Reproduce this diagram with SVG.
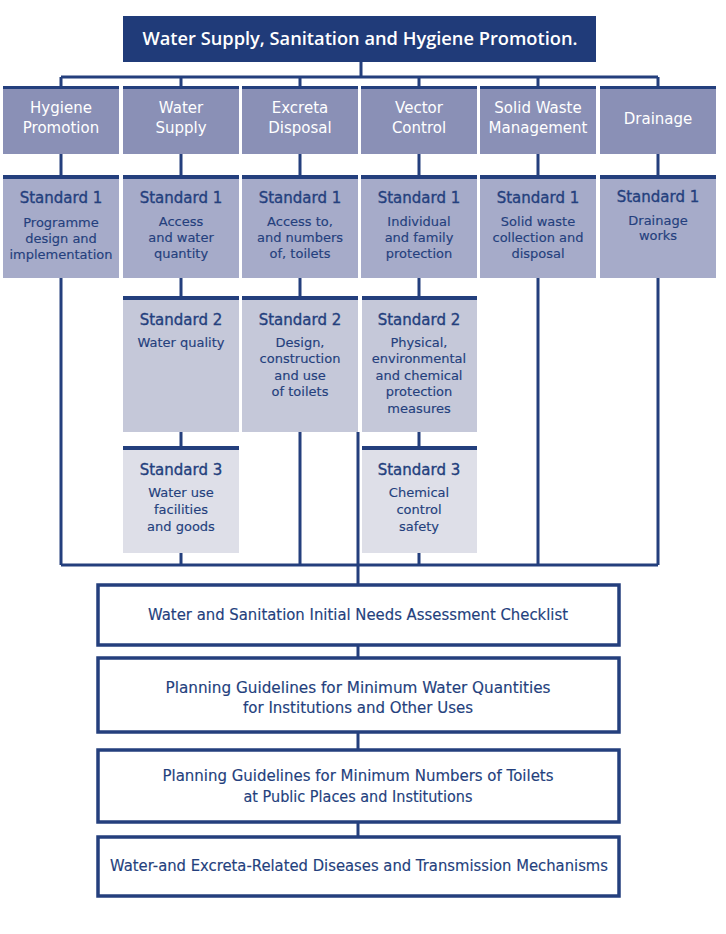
<svg xmlns="http://www.w3.org/2000/svg" width="726" height="934" viewBox="0 0 726 934">
<style>
  .ln{stroke:#243f7d;stroke-width:3;fill:none}
  .cat{fill:#8a90b6}
  .s1{fill:#a6abc9}
  .s2{fill:#c5c8d9}
  .s3{fill:#dedfe8}
  .bar{fill:#243f7d}
  .bot{fill:#ffffff;stroke:#243f7d;stroke-width:3.5}
  .ct{font-family:"DejaVu Sans","Liberation Sans",sans-serif;font-size:15px;fill:#ffffff;text-anchor:middle}
  .st{font-family:"DejaVu Sans","Liberation Sans",sans-serif;font-size:15px;fill:#243f7d;text-anchor:middle;stroke:#243f7d;stroke-width:0.35}
  .dt{font-family:"DejaVu Sans","Liberation Sans",sans-serif;font-size:13px;fill:#243f7d;text-anchor:middle;stroke:#243f7d;stroke-width:0.15}
  .bt{font-family:"DejaVu Sans","Liberation Sans",sans-serif;font-size:15px;fill:#243f7d;text-anchor:middle;stroke:#243f7d;stroke-width:0.15}
  .tt{font-family:"Open Sans","DejaVu Sans",sans-serif;font-size:18px;font-weight:600;fill:#ffffff;text-anchor:middle}
</style>
<rect width="726" height="934" fill="#ffffff"/>
<g id="connectors">
  <path class="ln" d="M361 62V77M61 77H658M61 77V87M181 77V87M300 77V87M419 77V87M538 77V87M658 77V87"/>
  <path class="ln" d="M61 154V176M181 154V176M300 154V176M419 154V176M538 154V176M658 154V176"/>
  <path class="ln" d="M181 278V297M300 278V297M419 278V297M181 432V447M419 432V447"/>
  <path class="ln" d="M61 278V565M538 278V565M658 278V565M300 432V565M181 553V565M419 553V565M61 565H658"/>
  <path class="ln" d="M358 432V584M358 646V657M358 733V749M358 823V836"/>
</g>
<g id="title">
  <rect x="123" y="16" width="473" height="46" fill="#203b79"/>
  <text class="tt" x="360" y="45" textLength="435" lengthAdjust="spacingAndGlyphs">Water Supply, Sanitation and Hygiene Promotion.</text>
</g>
<g id="cat-hygiene">
  <rect class="cat" x="3" y="87" width="116" height="67"/><rect class="bar" x="3" y="86" width="116" height="3"/>
  <text class="ct" x="61" y="113">Hygiene</text><text class="ct" x="61" y="133">Promotion</text>
</g>
<g id="cat-water">
  <rect class="cat" x="123" y="87" width="116" height="67"/><rect class="bar" x="123" y="86" width="116" height="3"/>
  <text class="ct" x="181" y="113">Water</text><text class="ct" x="181" y="133">Supply</text>
</g>
<g id="cat-excreta">
  <rect class="cat" x="242" y="87" width="116" height="67"/><rect class="bar" x="242" y="86" width="116" height="3"/>
  <text class="ct" x="300" y="113">Excreta</text><text class="ct" x="300" y="133">Disposal</text>
</g>
<g id="cat-vector">
  <rect class="cat" x="361" y="87" width="116" height="67"/><rect class="bar" x="361" y="86" width="116" height="3"/>
  <text class="ct" x="419" y="113">Vector</text><text class="ct" x="419" y="133">Control</text>
</g>
<g id="cat-solid">
  <rect class="cat" x="480" y="87" width="116" height="67"/><rect class="bar" x="480" y="86" width="116" height="3"/>
  <text class="ct" x="538" y="113">Solid Waste</text><text class="ct" x="538" y="133">Management</text>
</g>
<g id="cat-drainage">
  <rect class="cat" x="600" y="87" width="116" height="67"/><rect class="bar" x="600" y="86" width="116" height="3"/>
  <text class="ct" x="658" y="124">Drainage</text>
</g>
<g id="hyg-s1">
  <rect class="s1" x="3" y="176" width="116" height="102"/><rect class="bar" x="3" y="175" width="116" height="4"/>
  <text class="st" x="61" y="203">Standard 1</text>
  <text class="dt" x="61" y="227">Programme</text><text class="dt" x="61" y="243">design and</text><text class="dt" x="61" y="259">implementation</text>
</g>
<g id="wat-s1">
  <rect class="s1" x="123" y="176" width="116" height="102"/><rect class="bar" x="123" y="175" width="116" height="4"/>
  <text class="st" x="181" y="203">Standard 1</text>
  <text class="dt" x="181" y="226">Access</text><text class="dt" x="181" y="242">and water</text><text class="dt" x="181" y="258">quantity</text>
</g>
<g id="exc-s1">
  <rect class="s1" x="242" y="176" width="116" height="102"/><rect class="bar" x="242" y="175" width="116" height="4"/>
  <text class="st" x="300" y="203">Standard 1</text>
  <text class="dt" x="300" y="226">Access to,</text><text class="dt" x="300" y="242">and numbers</text><text class="dt" x="300" y="258">of, toilets</text>
</g>
<g id="vec-s1">
  <rect class="s1" x="361" y="176" width="116" height="102"/><rect class="bar" x="361" y="175" width="116" height="4"/>
  <text class="st" x="419" y="203">Standard 1</text>
  <text class="dt" x="419" y="226">Individual</text><text class="dt" x="419" y="242">and family</text><text class="dt" x="419" y="258">protection</text>
</g>
<g id="sol-s1">
  <rect class="s1" x="480" y="176" width="116" height="102"/><rect class="bar" x="480" y="175" width="116" height="4"/>
  <text class="st" x="538" y="203">Standard 1</text>
  <text class="dt" x="538" y="226">Solid waste</text><text class="dt" x="538" y="242">collection and</text><text class="dt" x="538" y="258">disposal</text>
</g>
<g id="dra-s1">
  <rect class="s1" x="600" y="176" width="116" height="102"/><rect class="bar" x="600" y="175" width="116" height="4"/>
  <text class="st" x="658" y="202">Standard 1</text>
  <text class="dt" x="658" y="225">Drainage</text><text class="dt" x="658" y="240">works</text>
</g>
<g id="wat-s2">
  <rect class="s2" x="123" y="297" width="116" height="135"/><rect class="bar" x="123" y="296" width="116" height="4"/>
  <text class="st" x="181" y="325">Standard 2</text>
  <text class="dt" x="181" y="347">Water quality</text>
</g>
<g id="exc-s2">
  <rect class="s2" x="242" y="297" width="116" height="135"/><rect class="bar" x="242" y="296" width="116" height="4"/>
  <text class="st" x="300" y="325">Standard 2</text>
  <text class="dt" x="300" y="347">Design,</text><text class="dt" x="300" y="363">construction</text><text class="dt" x="300" y="380">and use</text><text class="dt" x="300" y="396">of toilets</text>
</g>
<g id="vec-s2">
  <rect class="s2" x="362" y="297" width="115" height="135"/><rect class="bar" x="362" y="296" width="115" height="4"/>
  <text class="st" x="419" y="325">Standard 2</text>
  <text class="dt" x="419" y="347">Physical,</text><text class="dt" x="419" y="363">environmental</text><text class="dt" x="419" y="380">and chemical</text><text class="dt" x="419" y="396">protection</text><text class="dt" x="419" y="413">measures</text>
</g>
<g id="wat-s3">
  <rect class="s3" x="123" y="447" width="116" height="106"/><rect class="bar" x="123" y="446" width="116" height="4"/>
  <text class="st" x="181" y="475">Standard 3</text>
  <text class="dt" x="181" y="497">Water use</text><text class="dt" x="181" y="514">facilities</text><text class="dt" x="181" y="531">and goods</text>
</g>
<g id="vec-s3">
  <rect class="s3" x="362" y="447" width="115" height="106"/><rect class="bar" x="362" y="446" width="115" height="4"/>
  <text class="st" x="419" y="475">Standard 3</text>
  <text class="dt" x="419" y="497">Chemical</text><text class="dt" x="419" y="514">control</text><text class="dt" x="419" y="531">safety</text>
</g>
<g id="checklist">
  <rect class="bot" x="98" y="585" width="521" height="60"/>
  <text class="bt" x="358" y="620" textLength="420" lengthAdjust="spacingAndGlyphs">Water and Sanitation Initial Needs Assessment Checklist</text>
</g>
<g id="water-quantities">
  <rect class="bot" x="98" y="658" width="521" height="74"/>
  <text class="bt" x="358" y="693" textLength="385" lengthAdjust="spacingAndGlyphs">Planning Guidelines for Minimum Water Quantities</text>
  <text class="bt" x="358" y="713" textLength="230" lengthAdjust="spacingAndGlyphs">for Institutions and Other Uses</text>
</g>
<g id="toilets">
  <rect class="bot" x="98" y="750" width="521" height="72"/>
  <text class="bt" x="358" y="781" textLength="391" lengthAdjust="spacingAndGlyphs">Planning Guidelines for Minimum Numbers of Toilets</text>
  <text class="bt" x="358" y="802" textLength="229" lengthAdjust="spacingAndGlyphs">at Public Places and Institutions</text>
</g>
<g id="diseases">
  <rect class="bot" x="98" y="837" width="521" height="59"/>
  <text class="bt" x="359" y="871" textLength="498" lengthAdjust="spacingAndGlyphs">Water-and Excreta-Related Diseases and Transmission Mechanisms</text>
</g>
</svg>
